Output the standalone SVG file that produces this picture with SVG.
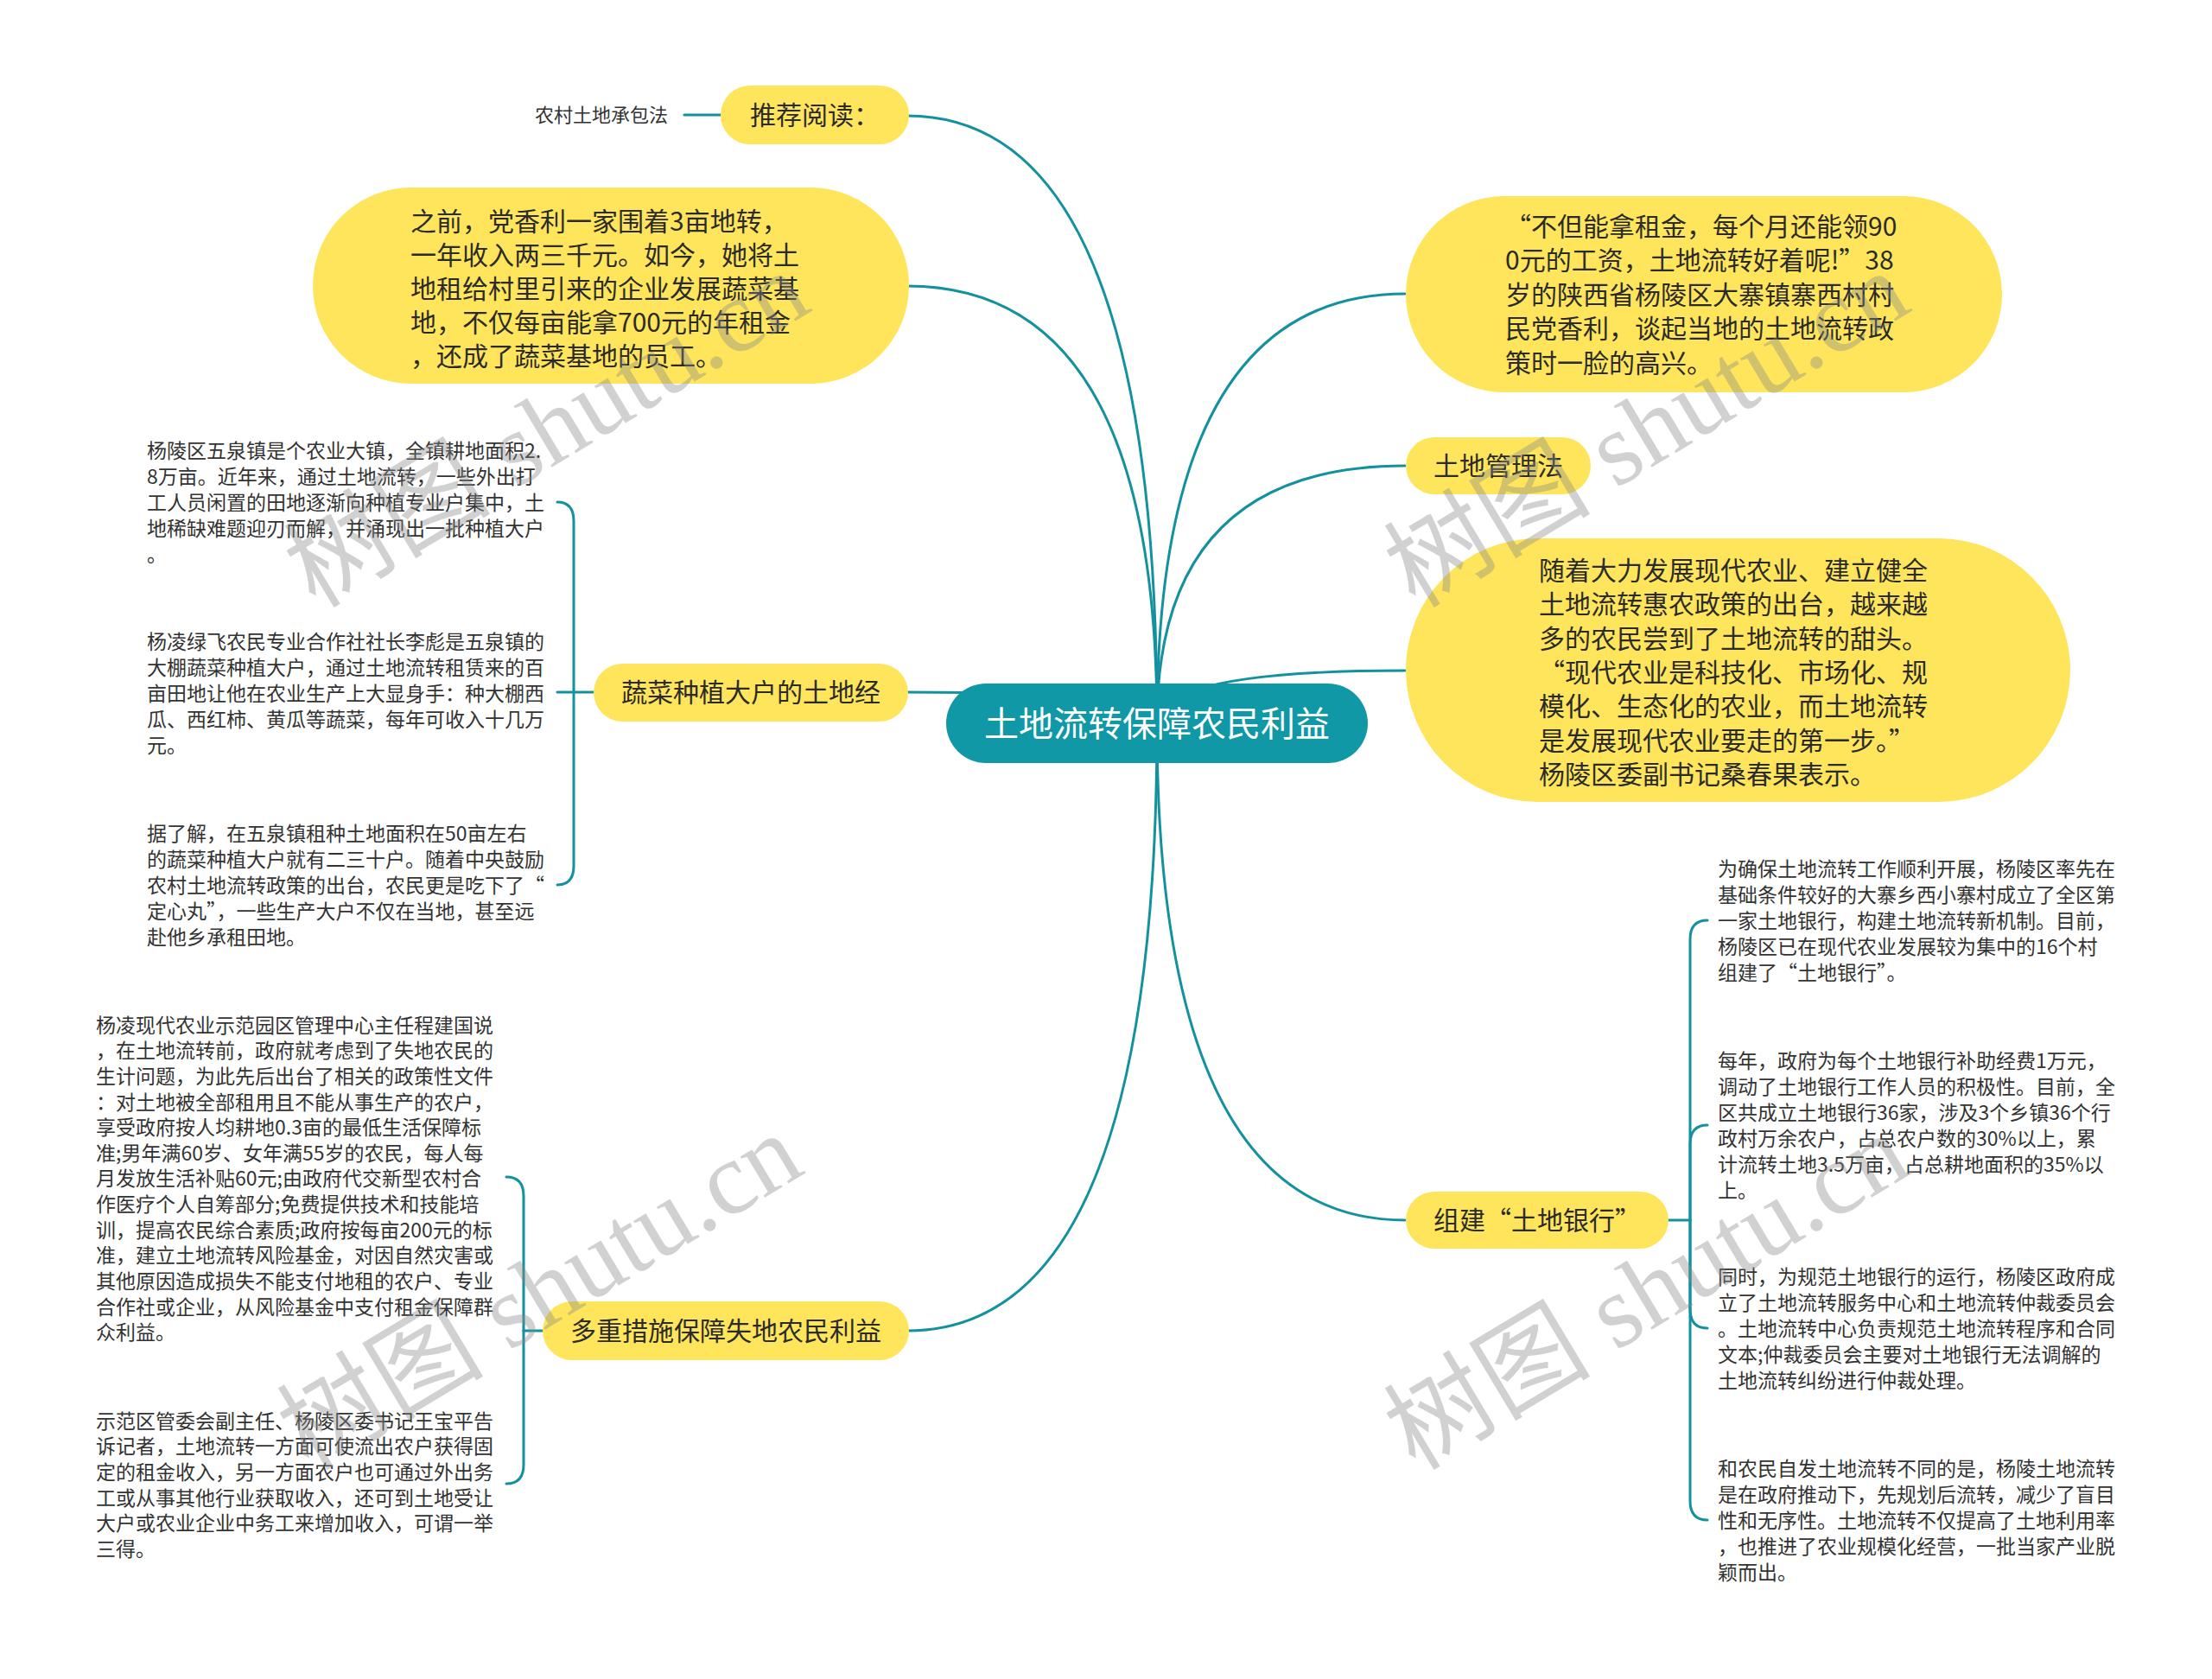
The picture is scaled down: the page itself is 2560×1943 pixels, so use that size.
<svg xmlns="http://www.w3.org/2000/svg" width="2560" height="1943" viewBox="0 0 2560 1943">
<style>
.conn{fill:none;stroke:#14919f;stroke-width:3;stroke-linecap:round}
.yel{fill:#fee55b}
.root{fill:#1198a7}
.nt{font-family:"Noto Sans CJK SC",sans-serif;font-size:30px;fill:#2b2b2b}
.ntc{font-family:"Noto Sans CJK SC",sans-serif;font-size:30px;fill:#2b2b2b;text-anchor:middle}
.rt{font-family:"Noto Sans CJK SC",sans-serif;font-size:40px;fill:#ffffff;text-anchor:middle}
.lt{font-family:"Noto Sans CJK SC",sans-serif;font-size:23px;fill:#333333}
.st{font-family:"Noto Sans CJK SC",sans-serif;font-size:22px;fill:#333333}
.wm{font-family:"Liberation Serif","Noto Sans CJK SC",serif;font-size:120px;fill:#888888;opacity:0.38}
</style>
<rect width="2560" height="1943" fill="#ffffff"/>
<g id="connectors">
<path class="conn" d="M1339,837 Q1339,134 1050,134"/>
<path class="conn" d="M1339,837 Q1339,331 1050,331"/>
<path class="conn" d="M1339,837 Q1339,801 1050,801"/>
<path class="conn" d="M1339,837 Q1339,1540 1050,1540"/>
<path class="conn" d="M1339,837 Q1339,340 1626,340"/>
<path class="conn" d="M1339,837 Q1339,539 1626,539"/>
<path class="conn" d="M1339,837 Q1339,776 1626,776"/>
<path class="conn" d="M1339,837 Q1339,1412 1626,1412"/>
<path class="conn" d="M834,133 L792,133"/>
<path class="conn" d="M687,801 L645,801"/>
<path class="conn" d="M664,801 L664,603 Q664,581 645,581"/>
<path class="conn" d="M664,801 L664,1002 Q664,1024 645,1024"/>
<path class="conn" d="M629,1540 L606,1540"/>
<path class="conn" d="M606,1540 L606,1384 Q606,1362 586,1362"/>
<path class="conn" d="M606,1540 L606,1695 Q606,1717 586,1717"/>
<path class="conn" d="M1930,1412 L1956,1412"/>
<path class="conn" d="M1956,1412 L1956,1087 Q1956,1065 1976,1065"/>
<path class="conn" d="M1956,1412 L1956,1324 Q1956,1302 1976,1302"/>
<path class="conn" d="M1956,1412 L1956,1515 Q1956,1537 1976,1537"/>
<path class="conn" d="M1956,1412 L1956,1737 Q1956,1759 1976,1759"/>
</g>
<g id="root">
<rect class="root" x="1095" y="791" width="488" height="92" rx="46"/>
<text class="rt" x="1339" y="852">土地流转保障农民利益</text>
</g>
<g id="n-tuijian">
<rect class="yel" x="834" y="99" width="218" height="68" rx="34"/>
<text class="ntc" x="943" y="144">推荐阅读：</text>
</g>
<g id="n-nongcun">
<text class="st" x="619" y="141">农村土地承包法</text>
</g>
<g id="n-zhiqian">
<rect class="yel" x="362" y="217" width="690" height="227" rx="113.5"/>
<text class="nt" x="475"><tspan x="475" y="267">之前，党香利一家围着3亩地转，</tspan><tspan x="475" y="306">一年收入两三千元。如今，她将土</tspan><tspan x="475" y="345">地租给村里引来的企业发展蔬菜基</tspan><tspan x="475" y="384">地，不仅每亩能拿700元的年租金</tspan><tspan x="475" y="423">，还成了蔬菜基地的员工。</tspan></text>
</g>
<g id="n-budan">
<rect class="yel" x="1627" y="227" width="690" height="227" rx="113.5"/>
<text class="nt" x="1742"><tspan x="1742" y="273">“不但能拿租金，每个月还能领90</tspan><tspan x="1742" y="312">0元的工资，土地流转好着呢!”38</tspan><tspan x="1742" y="352">岁的陕西省杨陵区大寨镇寨西村村</tspan><tspan x="1742" y="391">民党香利，谈起当地的土地流转政</tspan><tspan x="1742" y="431">策时一脸的高兴。</tspan></text>
</g>
<g id="n-guanlifa">
<rect class="yel" x="1627" y="506" width="214" height="66" rx="33"/>
<text class="ntc" x="1734" y="550">土地管理法</text>
</g>
<g id="n-suizhe">
<rect class="yel" x="1627" y="623" width="769" height="305" rx="152.5"/>
<text class="nt" x="1781"><tspan x="1781" y="671">随着大力发展现代农业、建立健全</tspan><tspan x="1781" y="710">土地流转惠农政策的出台，越来越</tspan><tspan x="1781" y="750">多的农民尝到了土地流转的甜头。</tspan><tspan x="1781" y="789">“现代农业是科技化、市场化、规</tspan><tspan x="1781" y="828">模化、生态化的农业，而土地流转</tspan><tspan x="1781" y="868">是发展现代农业要走的第一步。”</tspan><tspan x="1781" y="907">杨陵区委副书记桑春果表示。</tspan></text>
</g>
<g id="n-shucai">
<rect class="yel" x="687" y="768" width="364" height="67" rx="33.5"/>
<text class="ntc" x="869" y="812">蔬菜种植大户的土地经</text>
</g>
<g id="n-shucai-1">
<text class="lt" x="170"><tspan x="170" y="530">杨陵区五泉镇是个农业大镇，全镇耕地面积2.</tspan><tspan x="170" y="560">8万亩。近年来，通过土地流转，一些外出打</tspan><tspan x="170" y="590">工人员闲置的田地逐渐向种植专业户集中，土</tspan><tspan x="170" y="620">地稀缺难题迎刃而解，并涌现出一批种植大户</tspan><tspan x="170" y="650">。</tspan></text>
</g>
<g id="n-shucai-2">
<text class="lt" x="170"><tspan x="170" y="751">杨凌绿飞农民专业合作社社长李彪是五泉镇的</tspan><tspan x="170" y="781">大棚蔬菜种植大户，通过土地流转租赁来的百</tspan><tspan x="170" y="811">亩田地让他在农业生产上大显身手：种大棚西</tspan><tspan x="170" y="841">瓜、西红柿、黄瓜等蔬菜，每年可收入十几万</tspan><tspan x="170" y="871">元。</tspan></text>
</g>
<g id="n-shucai-3">
<text class="lt" x="170"><tspan x="170" y="973">据了解，在五泉镇租种土地面积在50亩左右</tspan><tspan x="170" y="1003">的蔬菜种植大户就有二三十户。随着中央鼓励</tspan><tspan x="170" y="1033">农村土地流转政策的出台，农民更是吃下了“</tspan><tspan x="170" y="1063">定心丸”，一些生产大户不仅在当地，甚至远</tspan><tspan x="170" y="1093">赴他乡承租田地。</tspan></text>
</g>
<g id="n-duozhong">
<rect class="yel" x="628" y="1506" width="424" height="68" rx="34"/>
<text class="ntc" x="840" y="1551">多重措施保障失地农民利益</text>
</g>
<g id="n-duozhong-1">
<text class="lt" x="111"><tspan x="111" y="1195">杨凌现代农业示范园区管理中心主任程建国说</tspan><tspan x="111" y="1224">，在土地流转前，政府就考虑到了失地农民的</tspan><tspan x="111" y="1254">生计问题，为此先后出台了相关的政策性文件</tspan><tspan x="111" y="1284">：对土地被全部租用且不能从事生产的农户，</tspan><tspan x="111" y="1313">享受政府按人均耕地0.3亩的最低生活保障标</tspan><tspan x="111" y="1343">准;男年满60岁、女年满55岁的农民，每人每</tspan><tspan x="111" y="1372">月发放生活补贴60元;由政府代交新型农村合</tspan><tspan x="111" y="1402">作医疗个人自筹部分;免费提供技术和技能培</tspan><tspan x="111" y="1432">训，提高农民综合素质;政府按每亩200元的标</tspan><tspan x="111" y="1461">准，建立土地流转风险基金，对因自然灾害或</tspan><tspan x="111" y="1491">其他原因造成损失不能支付地租的农户、专业</tspan><tspan x="111" y="1521">合作社或企业，从风险基金中支付租金保障群</tspan><tspan x="111" y="1550">众利益。</tspan></text>
</g>
<g id="n-duozhong-2">
<text class="lt" x="111"><tspan x="111" y="1653">示范区管委会副主任、杨陵区委书记王宝平告</tspan><tspan x="111" y="1682">诉记者，土地流转一方面可使流出农户获得固</tspan><tspan x="111" y="1712">定的租金收入，另一方面农户也可通过外出务</tspan><tspan x="111" y="1742">工或从事其他行业获取收入，还可到土地受让</tspan><tspan x="111" y="1771">大户或农业企业中务工来增加收入，可谓一举</tspan><tspan x="111" y="1801">三得。</tspan></text>
</g>
<g id="n-yinhang">
<rect class="yel" x="1627" y="1379" width="304" height="66" rx="33"/>
<text class="ntc" x="1779" y="1423">组建“土地银行”</text>
</g>
<g id="n-yinhang-1">
<text class="lt" x="1988"><tspan x="1988" y="1014">为确保土地流转工作顺利开展，杨陵区率先在</tspan><tspan x="1988" y="1044">基础条件较好的大寨乡西小寨村成立了全区第</tspan><tspan x="1988" y="1074">一家土地银行，构建土地流转新机制。目前，</tspan><tspan x="1988" y="1104">杨陵区已在现代农业发展较为集中的16个村</tspan><tspan x="1988" y="1134">组建了“土地银行”。</tspan></text>
</g>
<g id="n-yinhang-2">
<text class="lt" x="1988"><tspan x="1988" y="1236">每年，政府为每个土地银行补助经费1万元，</tspan><tspan x="1988" y="1266">调动了土地银行工作人员的积极性。目前，全</tspan><tspan x="1988" y="1296">区共成立土地银行36家，涉及3个乡镇36个行</tspan><tspan x="1988" y="1326">政村万余农户，占总农户数的30%以上，累</tspan><tspan x="1988" y="1356">计流转土地3.5万亩，占总耕地面积的35%以</tspan><tspan x="1988" y="1386">上。</tspan></text>
</g>
<g id="n-yinhang-3">
<text class="lt" x="1988"><tspan x="1988" y="1486">同时，为规范土地银行的运行，杨陵区政府成</tspan><tspan x="1988" y="1516">立了土地流转服务中心和土地流转仲裁委员会</tspan><tspan x="1988" y="1546">。土地流转中心负责规范土地流转程序和合同</tspan><tspan x="1988" y="1576">文本;仲裁委员会主要对土地银行无法调解的</tspan><tspan x="1988" y="1606">土地流转纠纷进行仲裁处理。</tspan></text>
</g>
<g id="n-yinhang-4">
<text class="lt" x="1988"><tspan x="1988" y="1708">和农民自发土地流转不同的是，杨陵土地流转</tspan><tspan x="1988" y="1738">是在政府推动下，先规划后流转，减少了盲目</tspan><tspan x="1988" y="1768">性和无序性。土地流转不仅提高了土地利用率</tspan><tspan x="1988" y="1798">，也推进了农业规模化经营，一批当家产业脱</tspan><tspan x="1988" y="1828">颖而出。</tspan></text>
</g>
<g id="watermark">
<text class="wm" transform="translate(365,705) rotate(-31)">树图 shutu.cn</text>
<text class="wm" transform="translate(1638,705) rotate(-31)">树图 shutu.cn</text>
<text class="wm" transform="translate(357,1703) rotate(-31)">树图 shutu.cn</text>
<text class="wm" transform="translate(1638,1703) rotate(-31)">树图 shutu.cn</text>
</g>
</svg>
